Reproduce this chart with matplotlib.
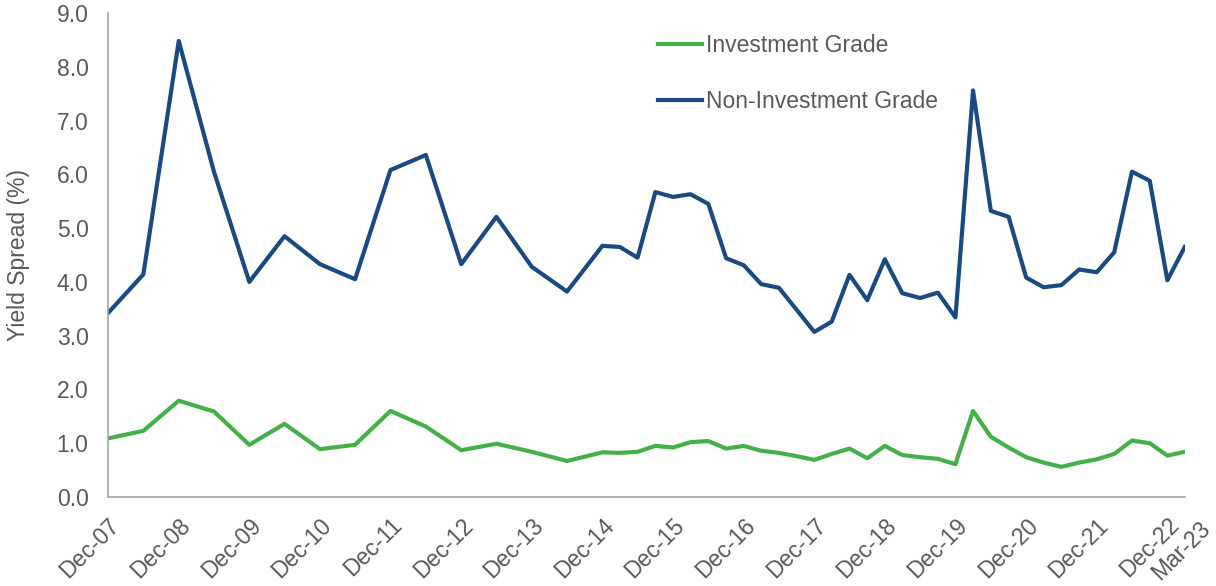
import pandas as pd
import matplotlib
matplotlib.use('Agg')
import matplotlib.pyplot as plt
import matplotlib.transforms as mtransforms

# semiannual Dec-07 .. Dec-14, then quarterly Mar-15 .. Mar-23
dates = list(pd.date_range('2007-12-01', '2014-12-01', freq='6MS')) + \
        list(pd.date_range('2015-03-01', '2023-03-01', freq='3MS'))

non_ig = [3.42, 4.14, 8.48, 6.05, 4.00, 4.85, 4.33, 4.05, 6.08, 6.36, 4.33, 5.21, 4.28, 3.82, 4.67,
          4.65, 4.45, 5.67, 5.58, 5.63, 5.45, 4.44, 4.31, 3.96, 3.89, 3.48, 3.07,
          3.26, 4.13, 3.66, 4.42, 3.79, 3.70, 3.80, 3.34, 7.56, 5.32, 5.21, 4.08,
          3.90, 3.94, 4.23, 4.18, 4.55, 6.05, 5.88, 4.03, 4.65]
inv_grade = [1.09, 1.23, 1.79, 1.59, 0.97, 1.36, 0.89, 0.97, 1.60, 1.31, 0.87, 0.99, 0.84, 0.67, 0.83,
             0.82, 0.84, 0.95, 0.92, 1.02, 1.04, 0.90, 0.95, 0.86, 0.82, 0.76, 0.69,
             0.80, 0.90, 0.72, 0.95, 0.78, 0.74, 0.71, 0.61, 1.60, 1.12, 0.92, 0.74,
             0.64, 0.56, 0.64, 0.70, 0.80, 1.05, 1.00, 0.77, 0.84]

tick_dates = list(pd.date_range('2007-12-01', '2022-12-01', freq='12MS')) + [pd.Timestamp('2023-03-01')]
tick_labels = [d.strftime('%b-%y') for d in tick_dates]

plt.rcParams['font.family'] = ['Liberation Sans', 'DejaVu Sans']
grey = '#595959'
fs = 16.5

fig = plt.figure(figsize=(12.16, 5.86), dpi=100)
ax = fig.add_axes([0.0888, 0.1519, 0.8855, 0.8259])

ax.plot(dates, inv_grade, color='#45B049', lw=3.0, label='Investment Grade')
ax.plot(dates, non_ig, color='#1B4A80', lw=3.0, label='Non-Investment Grade')

ax.set_xlim(tick_dates[0], tick_dates[-1])
ax.set_ylim(0, 9)
ax.set_yticks(range(0, 10))
ax.set_yticklabels([f'{v:.1f}' for v in range(0, 10)])
ax.set_xticks(tick_dates)
ax.set_xticklabels(tick_labels, rotation=45, ha='right', rotation_mode='anchor')
ax.tick_params(axis='both', length=0, labelsize=fs, labelcolor=grey)
ax.tick_params(axis='x', pad=12)
ax.tick_params(axis='y', pad=14)
ax.set_ylabel('Yield Spread (%)', fontsize=fs, color=grey, labelpad=19)

# last label sits a bit to the right, as in the original
last = ax.get_xticklabels()[-1]
last.set_transform(last.get_transform() + mtransforms.ScaledTranslation(0.14, -0.03, fig.dpi_scale_trans))

for s in ['top', 'right']:
    ax.spines[s].set_visible(False)
for s in ['left', 'bottom']:
    ax.spines[s].set_color('#A6A6A6')
    ax.spines[s].set_linewidth(1.2)

leg = ax.legend(loc='upper left', bbox_to_anchor=(0.494, 0.994), frameon=False,
                fontsize=fs, handlelength=1.9, handletextpad=0.2, labelspacing=1.45,
                borderaxespad=0.4)
for t in leg.get_texts():
    t.set_color(grey)

fig.savefig('out.png', dpi=100)
